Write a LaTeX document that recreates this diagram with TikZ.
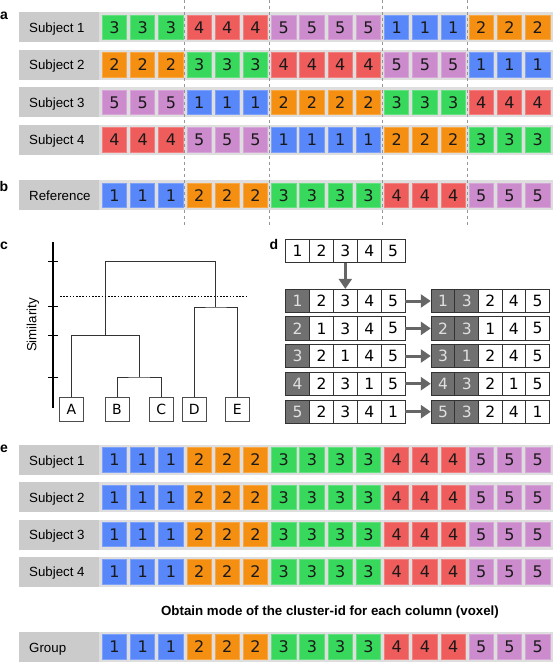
\documentclass[tikz,border=0pt]{standalone}
\usepackage{fontspec}
\setmainfont{Liberation Sans}
\newfontfamily\dvfont{DejaVu Sans}
\usetikzlibrary{arrows.meta}
\definecolor{c1}{RGB}{88,135,250}
\definecolor{c2}{RGB}{245,143,17}
\definecolor{c3}{RGB}{55,216,92}
\definecolor{c4}{RGB}{238,92,92}
\definecolor{c5}{RGB}{204,139,204}
\definecolor{barlab}{RGB}{203,203,203}
\definecolor{barband}{RGB}{222,222,222}
\definecolor{darkcell}{RGB}{112,112,112}
\definecolor{arrowgray}{RGB}{102,102,102}
\definecolor{dashgray}{RGB}{150,150,150}
\definecolor{linegray}{RGB}{51,51,51}
\tikzset{
  sq/.style={minimum width=24.3pt, minimum height=24.5pt, inner sep=0pt, line width=0.8pt,
    font=\dvfont\fontsize{16}{18}\selectfont, text=black!90},
  rowlab/.style={anchor=base west, inner sep=0pt, font=\fontsize{13.3}{15}\selectfont},
  panel/.style={inner sep=0pt, font=\bfseries\fontsize{14}{16}\selectfont},
  leaf/.style={draw=black!70, fill=white, line width=0.8pt, minimum width=24pt, minimum height=24pt,
    inner sep=0pt, font=\dvfont\fontsize{14}{16}\selectfont},
  dcell/.style={draw=linegray, fill=white, line width=0.8pt, minimum width=23.8pt, minimum height=23.5pt,
    inner sep=0pt, font=\dvfont\fontsize{15.5}{17}\selectfont},
  darkc/.style={fill=darkcell, text=black!12},
  garrow/.style={draw=arrowgray, line width=3pt, -{Triangle[length=10pt,width=13pt]}},
  dend/.style={draw=linegray, line width=0.9pt},
  vsep/.style={draw=dashgray, line width=0.9pt, dash pattern=on 3pt off 3pt}
}
\newcommand\cellrow[4]{%
  \fill[barband] (19,#2) rectangle (553,#2+30);
  \fill[barlab] (19,#2) rectangle (99,#2+30);
  \node[rowlab] (#1-lab) at (29,#2+20) {#3};
  \foreach \v [count=\k from 0] in {#4} {
    \node[sq, fill=c\v, draw=c\v!78!white] (#1-\k) at (114.45+28.22*\k, #2+15) {\v};
  }%
}
\begin{document}
\begin{tikzpicture}[x=1pt,y=-1pt]
\useasboundingbox (0,0) rectangle (553,663);
% ---- panel a ----
\node[panel] (pa) at (4,15.7) {a};
\cellrow{as1}{12.3}{Subject 1}{3,3,3,4,4,4,5,5,5,5,1,1,1,2,2,2}
\cellrow{as2}{49.8}{Subject 2}{2,2,2,3,3,3,4,4,4,4,5,5,5,1,1,1}
\cellrow{as3}{87.3}{Subject 3}{5,5,5,1,1,1,2,2,2,2,3,3,3,4,4,4}
\cellrow{as4}{124.8}{Subject 4}{4,4,4,5,5,5,1,1,1,1,2,2,2,3,3,3}
% ---- panel b ----
\node[panel] (pb) at (4,186) {b};
\cellrow{bref}{180.3}{Reference}{1,1,1,2,2,2,3,3,3,3,4,4,4,5,5,5}
% dashed separators
\foreach \xx in {184.8,269.4,382.4,467} {
  \draw[vsep] (\xx,0) -- (\xx,226);
}
% ---- panel c ----
\node[panel] (pc) at (4,246) {c};
\draw[line width=2.4pt] (52.7,241.7) -- (52.7,408);
\foreach \yy in {261.7,306,335.7,377} {
  \draw[line width=1pt] (48,\yy) -- (57.5,\yy);
}
\node[rotate=90, font=\fontsize{13.3}{15}\selectfont, inner sep=0pt] (simlab) at (33,325) {Similarity};
\node[leaf] (A) at (71.3,409) {A};
\node[leaf] (B) at (117,409) {B};
\node[leaf] (C) at (161.3,409) {C};
\node[leaf] (D) at (194.3,409) {D};
\node[leaf] (E) at (237.3,409) {E};
\coordinate (bc) at (139.15,377);
\coordinate (abc) at (105.2,335.7);
\coordinate (de) at (215.8,307);
\coordinate (top) at (160.5,261.7);
\draw[dend] (B.north) |- (bc) -| (C.north);
\draw[dend] (A.north) |- (abc) -| (bc);
\draw[dend] (D.north) |- (de) -| (E.north);
\draw[dend] (abc) |- (top) -| (de);
\draw[line width=0.9pt, dash pattern=on 1.6pt off 1.6pt] (60,296.7) -- (248.3,296.7);
% ---- panel d ----
\node[panel] (pd) at (274,244.5) {d};
\foreach \v [count=\k from 0] in {1,2,3,4,5} {
  \node[dcell] (t-\k) at (297.6+23.86*\k,250.9) {\v};
}
\foreach \row/\yy [count=\r] in {{1,2,3,4,5}/301, {2,1,3,4,5}/328.4, {3,2,1,4,5}/356, {4,2,3,1,5}/383.7, {5,2,3,4,1}/411.7} {
  \foreach \v [count=\k from 0] in \row {
    \ifnum\k=0
      \node[dcell, darkc] (L\r-\k) at (297.6+23.86*\k,\yy) {\v};
    \else
      \node[dcell] (L\r-\k) at (297.6+23.86*\k,\yy) {\v};
    \fi
  }
}
\foreach \row/\yy [count=\r] in {{1,3,2,4,5}/301, {2,3,1,4,5}/328.4, {3,1,2,4,5}/356, {4,3,2,1,5}/383.7, {5,3,2,4,1}/411.7} {
  \foreach \v [count=\k from 0] in \row {
    \ifnum\k<2
      \node[dcell, darkc] (R\r-\k) at (443.1+23.6*\k,\yy) {\v};
    \else
      \node[dcell] (R\r-\k) at (443.1+23.6*\k,\yy) {\v};
    \fi
  }
}
\draw[garrow] (t-2.south) -- (L1-2.north);
\foreach \r in {1,...,5} {
  \draw[garrow] (L\r-4.east) -- (R\r-0.west);
}
% ---- panel e ----
\node[panel] (pe) at (4,448.5) {e};
\cellrow{es1}{445}{Subject 1}{1,1,1,2,2,2,3,3,3,3,4,4,4,5,5,5}
\cellrow{es2}{482.3}{Subject 2}{1,1,1,2,2,2,3,3,3,3,4,4,4,5,5,5}
\cellrow{es3}{519.6}{Subject 3}{1,1,1,2,2,2,3,3,3,3,4,4,4,5,5,5}
\cellrow{es4}{556.9}{Subject 4}{1,1,1,2,2,2,3,3,3,3,4,4,4,5,5,5}
\node[font=\bfseries\fontsize{13.3}{15}\selectfont, inner sep=0pt] (caption) at (330,612) {Obtain mode of the cluster-id for each column (voxel)};
\cellrow{grp}{632}{Group}{1,1,1,2,2,2,3,3,3,3,4,4,4,5,5,5}
\end{tikzpicture}
\end{document}
